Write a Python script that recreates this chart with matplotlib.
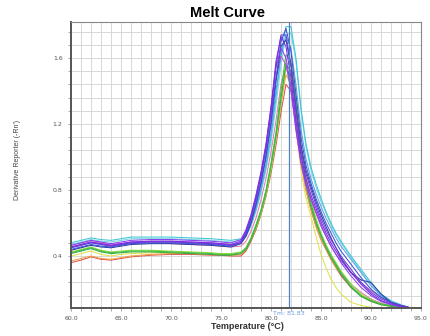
import matplotlib
matplotlib.use("Agg")
import matplotlib.pyplot as plt
from matplotlib.ticker import MultipleLocator, FormatStrFormatter

# melt curve data (derivative reporter vs temperature)
temps = [60, 61, 62, 63, 64, 65, 66, 68, 70, 72, 74, 75, 76,
         77, 77.5, 78, 78.5, 79, 79.5, 80, 80.5, 81, 81.5, 82, 82.5, 83, 83.5,
         84, 84.5, 85, 85.5, 86, 86.5, 87, 88, 89, 90, 91, 92, 93, 93.7]

purple_a = [0.455, 0.47, 0.485, 0.475, 0.465, 0.475, 0.485, 0.49, 0.49, 0.485, 0.48, 0.475, 0.47,
            0.49, 0.55, 0.64, 0.76, 0.90, 1.07, 1.30, 1.58, 1.73, 1.67, 1.48, 1.22, 1.01, 0.87,
            0.77, 0.69, 0.61, 0.54, 0.48, 0.43, 0.38, 0.30, 0.23, 0.17, 0.13, 0.11, 0.095, 0.088]
purple_b = [0.465, 0.48, 0.495, 0.485, 0.475, 0.485, 0.495, 0.50, 0.50, 0.495, 0.49, 0.485, 0.48,
            0.50, 0.56, 0.65, 0.77, 0.91, 1.08, 1.30, 1.54, 1.66, 1.60, 1.42, 1.17, 0.97, 0.84,
            0.75, 0.67, 0.59, 0.52, 0.46, 0.41, 0.36, 0.28, 0.21, 0.16, 0.125, 0.105, 0.092, 0.086]
violet = [0.45, 0.465, 0.48, 0.47, 0.46, 0.47, 0.48, 0.485, 0.485, 0.48, 0.475, 0.47, 0.465,
          0.48, 0.54, 0.63, 0.74, 0.88, 1.05, 1.27, 1.55, 1.74, 1.74, 1.56, 1.28, 1.05, 0.90,
          0.80, 0.71, 0.63, 0.56, 0.50, 0.45, 0.40, 0.32, 0.24, 0.18, 0.14, 0.115, 0.10, 0.09]
blue = [0.44, 0.455, 0.47, 0.46, 0.455, 0.465, 0.475, 0.48, 0.48, 0.475, 0.47, 0.465, 0.46,
        0.48, 0.53, 0.61, 0.72, 0.85, 1.01, 1.21, 1.47, 1.70, 1.78, 1.64, 1.38, 1.12, 0.95,
        0.84, 0.75, 0.67, 0.60, 0.54, 0.48, 0.43, 0.35, 0.27, 0.20, 0.15, 0.12, 0.10, 0.09]
dark_blue = [0.435, 0.45, 0.465, 0.455, 0.45, 0.46, 0.47, 0.475, 0.475, 0.47, 0.465, 0.46, 0.455,
             0.475, 0.52, 0.60, 0.71, 0.84, 1.00, 1.20, 1.46, 1.67, 1.71, 1.55, 1.30, 1.07, 0.92,
             0.82, 0.73, 0.65, 0.58, 0.51, 0.45, 0.39, 0.30, 0.255, 0.24, 0.17, 0.12, 0.10, 0.09]
light_blue = [0.45, 0.465, 0.48, 0.47, 0.46, 0.47, 0.48, 0.485, 0.485, 0.48, 0.475, 0.47, 0.465,
              0.48, 0.52, 0.59, 0.69, 0.81, 0.96, 1.15, 1.40, 1.62, 1.73, 1.66, 1.44, 1.17, 0.99,
              0.87, 0.78, 0.70, 0.63, 0.57, 0.51, 0.46, 0.38, 0.30, 0.22, 0.16, 0.12, 0.10, 0.09]
cyan = [0.48, 0.495, 0.51, 0.50, 0.495, 0.505, 0.515, 0.515, 0.515, 0.51, 0.505, 0.50, 0.495,
        0.505, 0.53, 0.59, 0.68, 0.80, 0.94, 1.12, 1.36, 1.62, 1.79, 1.79, 1.60, 1.30, 1.08,
        0.94, 0.84, 0.75, 0.67, 0.60, 0.54, 0.49, 0.40, 0.32, 0.24, 0.17, 0.13, 0.105, 0.092]
pale_cyan = [0.47, 0.485, 0.50, 0.49, 0.485, 0.495, 0.505, 0.505, 0.505, 0.50, 0.495, 0.49, 0.485,
             0.495, 0.52, 0.58, 0.67, 0.78, 0.92, 1.09, 1.31, 1.56, 1.74, 1.75, 1.58, 1.28, 1.06,
             0.92, 0.82, 0.73, 0.66, 0.59, 0.53, 0.48, 0.39, 0.31, 0.23, 0.16, 0.12, 0.10, 0.09]
green = [0.42, 0.435, 0.45, 0.43, 0.42, 0.425, 0.43, 0.43, 0.425, 0.42, 0.415, 0.41, 0.41,
         0.42, 0.45, 0.51, 0.59, 0.68, 0.80, 0.96, 1.15, 1.40, 1.62, 1.58, 1.34, 1.06, 0.86,
         0.72, 0.61, 0.53, 0.46, 0.40, 0.35, 0.30, 0.22, 0.16, 0.13, 0.11, 0.10, 0.09, 0.085]
green_2 = [0.415, 0.43, 0.445, 0.425, 0.415, 0.42, 0.425, 0.425, 0.42, 0.415, 0.41, 0.405, 0.405,
           0.415, 0.44, 0.50, 0.58, 0.67, 0.79, 0.95, 1.13, 1.36, 1.56, 1.52, 1.28, 1.02, 0.83,
           0.70, 0.60, 0.52, 0.45, 0.39, 0.34, 0.29, 0.21, 0.155, 0.125, 0.105, 0.095, 0.088, 0.083]
lime = [0.425, 0.44, 0.455, 0.435, 0.425, 0.43, 0.435, 0.435, 0.43, 0.425, 0.42, 0.415, 0.415,
        0.425, 0.45, 0.50, 0.57, 0.66, 0.77, 0.92, 1.10, 1.33, 1.56, 1.58, 1.36, 1.08, 0.88,
        0.74, 0.63, 0.54, 0.47, 0.41, 0.36, 0.31, 0.23, 0.17, 0.135, 0.11, 0.10, 0.09, 0.085]
yellow = [0.40, 0.415, 0.43, 0.41, 0.40, 0.41, 0.415, 0.42, 0.42, 0.415, 0.41, 0.405, 0.405,
          0.41, 0.44, 0.49, 0.56, 0.65, 0.77, 0.92, 1.10, 1.34, 1.54, 1.46, 1.18, 0.92, 0.75,
          0.64, 0.52, 0.41, 0.33, 0.26, 0.21, 0.17, 0.12, 0.10, 0.09, 0.085, 0.082, 0.08, 0.08]
orange = [0.37, 0.385, 0.40, 0.385, 0.38, 0.39, 0.40, 0.41, 0.415, 0.415, 0.41, 0.41, 0.405,
          0.41, 0.44, 0.50, 0.57, 0.66, 0.78, 0.93, 1.11, 1.32, 1.50, 1.44, 1.22, 0.98, 0.80,
          0.68, 0.58, 0.50, 0.44, 0.38, 0.33, 0.29, 0.21, 0.16, 0.125, 0.105, 0.095, 0.088, 0.083]
red = [0.36, 0.375, 0.395, 0.38, 0.375, 0.385, 0.395, 0.405, 0.41, 0.41, 0.405, 0.405, 0.40,
       0.40, 0.43, 0.49, 0.56, 0.65, 0.76, 0.90, 1.07, 1.27, 1.44, 1.40, 1.20, 0.97, 0.80,
       0.68, 0.58, 0.50, 0.44, 0.38, 0.33, 0.28, 0.21, 0.16, 0.13, 0.11, 0.10, 0.09, 0.085]
pink = [0.465, 0.48, 0.495, 0.48, 0.47, 0.475, 0.48, 0.48, 0.475, 0.47, 0.465, 0.46, 0.455,
        0.46, 0.49, 0.55, 0.63, 0.74, 0.87, 1.03, 1.22, 1.44, 1.55, 1.46, 1.22, 0.99, 0.83,
        0.71, 0.61, 0.53, 0.46, 0.40, 0.35, 0.30, 0.23, 0.18, 0.14, 0.115, 0.10, 0.09, 0.085]
magenta = [0.455, 0.47, 0.485, 0.475, 0.465, 0.475, 0.485, 0.49, 0.49, 0.485, 0.48, 0.475, 0.47,
           0.48, 0.54, 0.63, 0.75, 0.89, 1.05, 1.26, 1.48, 1.61, 1.56, 1.40, 1.16, 0.96, 0.83,
           0.74, 0.66, 0.58, 0.52, 0.46, 0.41, 0.37, 0.30, 0.24, 0.19, 0.15, 0.12, 0.10, 0.09]

curves = [
    (yellow, '#e2e24a'), (red, '#e05252'), (orange, '#f0a040'), (pink, '#e47ab4'),
    (lime, '#8ede3e'), (green_2, '#2eaa4a'), (green, '#40c040'),
    (pale_cyan, '#78d6e4'), (cyan, '#3ec6d4'), (light_blue, '#5c9ee8'),
    (magenta, '#a855d0'), (dark_blue, '#2a3c9c'), (blue, '#3a52d8'),
    (purple_b, '#8b3df0'), (violet, '#6a3fd8'), (purple_a, '#7b2be2'),
]

tm = 81.83

fig = plt.figure(figsize=(4.31, 3.36), dpi=100)
ax = fig.add_axes([0.1647, 0.0833, 0.812, 0.851])

for vals, col in curves:
    ax.plot(temps, vals, color=col, lw=0.75)

ax.axvline(tm, color='#4a80c4', lw=0.9)

ax.set_xlim(60, 95)
ax.set_ylim(0.085, 1.818)
ax.xaxis.set_major_locator(MultipleLocator(5))
ax.xaxis.set_minor_locator(MultipleLocator(1))
ax.yaxis.set_major_locator(MultipleLocator(0.4))
ax.yaxis.set_minor_locator(MultipleLocator(0.08))
ax.xaxis.set_major_formatter(FormatStrFormatter('%.1f'))
ax.yaxis.set_major_formatter(FormatStrFormatter('%.1f'))
ax.grid(True, which='both', color='#d8d8d8', lw=0.7)
ax.set_axisbelow(True)
ax.tick_params(which='both', labelsize=4.5, labelcolor='#555555', color='#999999',
               length=2.5, width=0.6)

for side in ['left', 'bottom']:
    ax.spines[side].set_color('#555555')
    ax.spines[side].set_linewidth(1.4)
for side in ['top', 'right']:
    ax.spines[side].set_color('#888888')
    ax.spines[side].set_linewidth(0.8)

fig.text(0.527, 0.961, 'Melt Curve', ha='center', va='center', fontsize=10.5,
         fontweight='bold', family=['Liberation Sans', 'DejaVu Sans'])
fig.text(0.573, 0.027, 'Temperature (\u00b0C)', ha='center', va='center', fontsize=6.5,
         fontweight='bold', color='#333333', family=['Liberation Sans', 'DejaVu Sans'])
fig.text(0.04, 0.524, "Derivative Reporter (-Rn')", ha='center', va='center', rotation=90,
         fontsize=5, color='#444444',
         family=['Liberation Sans Narrow', 'Liberation Sans', 'DejaVu Sans'])
ax.text(tm, -0.01, 'Tm: 81.83', transform=ax.get_xaxis_transform(), ha='center', va='top',
        fontsize=4.5, color='#6aa0d8', clip_on=False)

fig.savefig('out.png', dpi=100)
